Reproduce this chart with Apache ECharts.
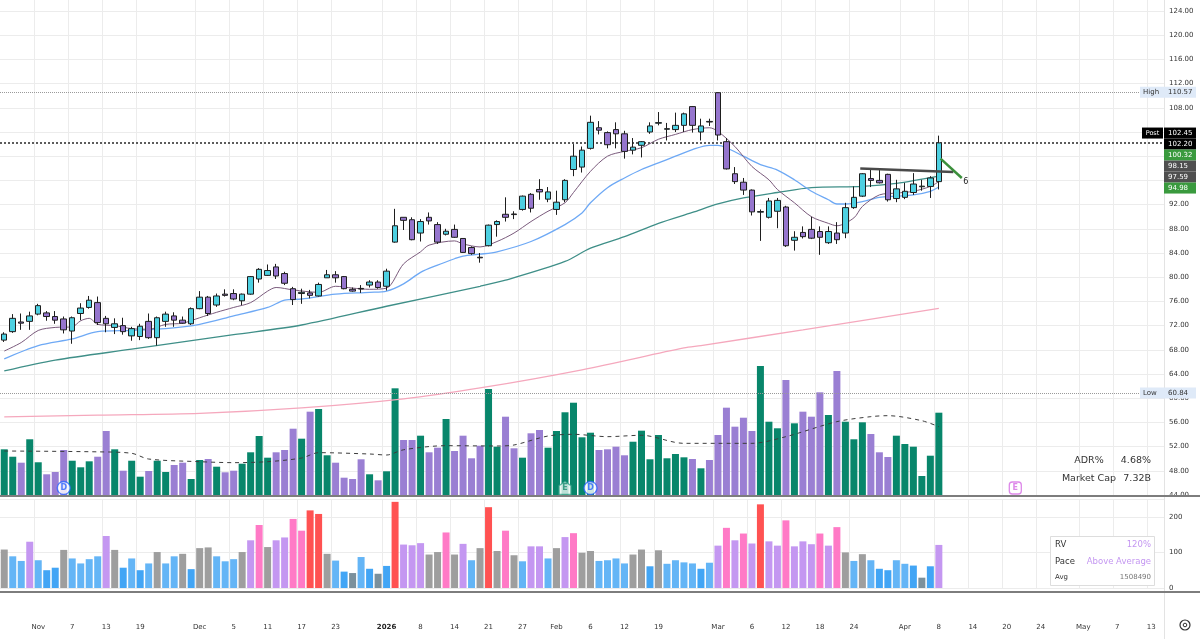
<!DOCTYPE html>
<html><head><meta charset="utf-8">
<script src="https://cdn.jsdelivr.net/npm/echarts@6/dist/echarts.min.js"></script>
<style>html,body{margin:0;padding:0;background:#fff}#c{width:1200px;height:639px}</style>
</head><body><div id="c"></div>
<script>
// ---------- DATA ----------
const dates = ['10/28','10/29','10/30','10/31',
'11/03','11/04','11/05','11/06','11/07','11/10','11/11','11/12','11/13','11/14',
'11/17','11/18','11/19','11/20','11/21','11/24','11/25','11/26','11/28',
'12/01','12/02','12/03','12/04','12/05','12/08','12/09','12/10','12/11','12/12',
'12/15','12/16','12/17','12/18','12/19','12/22','12/23','12/24','12/26','12/29','12/30','12/31',
'01/02','01/05','01/06','01/07','01/08','01/09','01/12','01/13','01/14','01/15','01/16',
'01/20','01/21','01/22','01/23','01/26','01/27','01/28','01/29','01/30',
'02/02','02/03','02/04','02/05','02/06','02/09','02/10','02/11','02/12','02/13',
'02/17','02/18','02/19','02/20','02/23','02/24','02/25','02/26','02/27',
'03/02','03/03','03/04','03/05','03/06','03/09','03/10','03/11','03/12','03/13',
'03/16','03/17','03/18','03/19','03/20','03/23','03/24','03/25','03/26','03/27','03/30','03/31',
'04/01','04/02','04/06','04/07','04/08','04/09','04/10',
'04/13','04/14','04/15','04/16','04/17','04/20','04/21','04/22','04/23','04/24',
'04/27','04/28','04/29','04/30','05/01','05/04','05/05','05/06','05/07','05/08',
'05/11','05/12','05/13','05/14'];

const tickLabels = {'11/03':'Nov','11/07':'7','11/13':'13','11/19':'19','12/01':'Dec','12/05':'5',
'12/11':'11','12/17':'17','12/23':'23','01/02':'2026','01/08':'8','01/14':'14','01/21':'21','01/27':'27',
'02/02':'Feb','02/06':'6','02/12':'12','02/19':'19','03/02':'Mar','03/06':'6','03/12':'12','03/18':'18',
'03/24':'24','04/01':'Apr','04/08':'8','04/14':'14','04/20':'20','04/24':'24','05/01':'May','05/07':'7','05/13':'13'};

const open = [69.6,71.0,72.6,72.7,73.9,74.1,73.5,73.1,71.1,74.0,
75.0,75.8,73.2,71.7,72.0,70.3,70.2,72.7,70.0,72.7,
73.6,72.9,72.3,74.8,76.7,75.4,77.2,77.3,76.1,77.2,
79.7,80.3,81.7,80.6,78.1,77.3,77.4,76.9,79.9,80.4,
80.1,78.0,78.15,78.7,79.2,78.5,85.8,89.9,89.5,87.3,
89.9,88.7,87.1,87.9,86.4,84.9,83.3,85.2,88.7,90.4,
90.45,91.2,93.7,94.5,92.9,91.2,92.8,97.8,98.2,101.3,
104.7,103.9,104.4,103.7,101.0,101.8,104.0,105.45,104.45,104.4,
105.1,108.2,104.0,105.75,110.5,102.4,97.1,95.7,94.4,90.75,
89.9,90.9,91.6,86.1,87.4,87.9,87.55,85.7,87.3,87.3,
91.5,93.4,96.3,96.0,97.0,93.0,93.2,94.0,94.95,95.0,95.8];
const close = [70.6,73.2,72.4,73.6,75.3,73.5,72.9,71.3,73.3,74.9,
76.2,72.5,72.3,72.3,71.0,71.5,71.9,70.0,73.3,73.9,
72.9,72.4,74.8,76.7,74.0,76.9,77.0,76.4,77.2,80.1,
81.3,81.1,80.2,79.0,76.3,77.5,77.0,78.8,80.4,79.9,
78.1,77.7,78.05,79.2,78.3,81.0,88.5,89.4,86.2,89.2,
89.3,85.8,87.6,86.6,84.1,83.9,83.2,88.6,89.2,89.9,
90.35,93.4,91.4,94.1,94.1,92.4,96.0,100.0,101.0,105.6,
104.3,101.9,103.7,100.8,101.5,102.4,105.0,105.55,104.55,105.1,
107.0,105.1,105.0,105.65,103.5,97.9,95.8,94.4,90.8,90.85,
92.6,92.7,85.2,86.6,86.7,86.45,86.6,87.55,86.2,91.5,
93.2,97.1,96.0,95.6,92.8,94.6,94.2,95.4,95.05,96.4,102.2];
const low = [69.3,70.8,71.3,71.3,73.7,72.8,72.3,70.7,69.0,72.9,
74.8,72.1,70.9,70.6,70.5,69.5,69.6,69.8,68.7,71.8,
71.8,72.3,72.1,74.7,73.6,75.1,76.8,76.2,75.4,77.1,
79.1,80.2,79.7,78.7,75.4,75.6,76.5,76.8,79.9,79.1,
78.0,77.6,77.4,78.3,78.1,77.8,85.7,87.8,86.1,85.9,
88.7,85.5,86.9,86.5,84.0,83.7,82.4,85.1,86.7,89.2,
89.6,91.0,90.7,92.8,92.4,90.3,92.4,96.7,97.3,101.1,
103.6,101.3,101.3,99.6,100.3,99.8,103.7,105.1,102.6,104.0,
104.0,103.9,102.6,105.0,102.6,97.8,95.4,93.6,90.2,86.0,
89.7,88.1,85.0,84.4,86.4,86.3,83.7,85.5,85.5,86.45,
91.3,93.25,94.9,95.5,92.5,92.4,92.9,93.6,94.3,93.1,94.5];
const high = [70.9,73.9,74.0,74.3,75.6,74.4,74.4,73.5,73.5,75.7,
76.9,76.8,73.6,73.2,73.3,71.8,72.3,74.0,73.5,74.3,
74.2,73.5,75.0,77.7,76.9,77.3,78.0,78.0,77.3,80.2,
81.5,82.1,82.2,80.9,78.4,78.1,77.9,79.1,81.2,81.0,
80.2,78.3,78.7,79.5,79.5,81.4,91.3,89.9,89.9,89.6,
90.7,89.1,88.0,88.7,86.4,85.1,84.0,88.7,89.4,93.2,
90.9,93.5,93.9,96.2,94.9,94.3,96.2,102.0,101.6,106.7,
105.8,104.1,105.6,104.2,103.0,102.5,105.6,107.3,105.5,107.2,
107.2,108.3,106.2,106.2,110.57,103.0,98.2,96.4,94.5,91.2,
93.1,93.1,91.8,87.6,88.4,90.0,88.4,88.4,89.1,92.3,
95.0,97.2,98.0,98.0,97.1,96.1,95.6,97.2,96.1,96.7,103.4];

// volume in thousands of shares
const volume = [1015,854,724,1233,733,472,522,1000,767,624,
754,854,1413,1015,550,767,420,543,767,522,
674,724,370,783,804,637,515,550,702,950,
1304,833,950,1000,1463,1246,1833,1891,885,724,
398,370,798,472,341,537,2341,1217,1217,1311,
950,1050,1674,978,1311,820,1093,2326,1072,1724,
1037,833,1363,1435,1050,1413,1820,2028,1276,1376,
1000,1015,1072,885,1180,1420,798,1326,820,913,
841,804,602,783,1326,1920,1507,1702,1413,2826,
1615,1472,2522,1580,1833,1724,2254,1761,2717,1615,
1233,1602,1348,950,848,1311,1130,1072,435,876,1811];
// volume average, read at [barIndex, thousands]
const volAvgPts = [[0,978],[11,960],[15,928],[17,804],[23,746],[27,725],[31,746],[35,826],[37,942],
[43,913],[45,891],[47,1005],[52,1094],[58,1087],[60,1109],[64,1304],[67,1341],[71,1290],[75,1320],
[80,1145],[84,1145],[88,1145],[92,1290],[98,1616],[102,1725],[104,1746],[108,1637],[110,1507]];

// relative volume %
const rv = [108,89,76,130,78,50,57,107,83,69,
81,89,146,107,57,83,50,69,101,69,
89,96,53,112,114,89,75,81,101,134,
177,115,134,142,194,161,218,208,96,77,
46,42,87,54,40,62,242,122,120,126,
94,101,156,94,124,78,112,227,104,161,
92,75,117,117,83,112,143,154,99,104,
76,78,83,69,94,108,61,106,68,78,
72,69,54,71,119,169,134,153,125,235,
131,119,190,117,131,123,153,119,171,100,
76,95,78,54,50,78,68,63,29,61,121];

// moving averages read at [barIndex, price]
const ema10Pts = [[0,67.8],[2,69.2],[4,71.2],[6,71.7],[8,71.8],[9,72.8],[10,73.2],[11,72.2],[13,72.0],[15,71.5],
[17,71.4],[19,72.2],[21,72.4],[23,73.3],[25,74.2],[27,75.0],[29,75.8],[31,77.7],[32,78.3],[34,77.9],[37,77.5],
[39,78.5],[41,78.2],[43,78.0],[45,78.2],[47,82.2],[49,84.2],[50,85.3],[53,86.0],[54,85.5],[56,85.0],[58,85.9],
[60,87.3],[62,89.2],[64,90.9],[66,92.3],[67,94.0],[69,97.5],[71,100.0],[73,100.8],[75,101.4],[77,102.8],[79,103.6],
[81,104.4],[83,104.7],[84,104.1],[86,101.6],[88,98.3],[90,96.1],[91,94.5],[93,92.3],[95,90.0],[97,88.9],[98,88.5],
[100,89.8],[101,91.7],[103,93.6],[105,93.9],[107,94.2],[109,95.0],[110,95.8]];
const ema21Pts = [[0,66.5],[4,68.7],[8,69.8],[11,71.0],[15,71.2],[19,71.5],[23,72.2],[27,73.6],[31,75.0],[33,76.2],
[35,76.4],[39,77.2],[43,77.5],[45,77.7],[47,78.9],[49,80.8],[51,82.0],[53,83.05],[54,83.5],[56,83.8],[58,84.2],
[62,85.9],[66,88.7],[68,90.6],[69,92.3],[71,94.8],[73,96.4],[75,97.8],[77,98.9],[79,100.0],[81,101.1],[83,101.8],
[84,101.8],[85,101.4],[87,100.0],[89,98.6],[91,97.7],[93,96.1],[95,94.2],[97,92.8],[98,92.1],[99,92.1],[101,92.5],
[103,93.2],[105,93.4],[107,93.6],[109,94.2],[110,94.9]];
const sma50Pts = [[0,64.5],[6,66.3],[15,68.1],[27,70.5],[35,72.1],[45,75.2],[56,78.5],[59,79.5],[66,82.6],[69,84.8],
[73,86.7],[77,88.9],[81,90.7],[84,92.1],[87,93.1],[91,94.0],[95,94.8],[101,95.0],[105,95.5],[110,96.7]];
const sma200Pts = [[0,56.9],[11,57.2],[23,57.5],[35,58.4],[47,59.9],[56,61.7],[68,64.7],[80,68.3],[82,68.7],[94,71.3],[110,74.85]];

// annotations [barIndex, price]
const trendLine = [[100.75,97.95],[111.7,97.4]];
const arrowLine = [[110.2,99.6],[112.7,96.4]];

const highLine = 110.57, lowLine = 60.84, lastPrice = 102.20;
const sideLabels = [
  {v:102.45, t:'102.45', bg:'#000000', tag:'Post'},
  {v:102.20, t:'102.20', bg:'#000000'},
  {v:100.32, t:'100.32', bg:'#3a9a3e'},
  {v:98.15,  t:'98.15',  bg:'#4f4f4f'},
  {v:97.59,  t:'97.59',  bg:'#4f4f4f'},
  {v:94.98,  t:'94.98',  bg:'#3a9a3e'}
];
const events = [{d:'11/06',t:'D',k:'div'},{d:'02/03',t:'E',k:'earn'},{d:'02/06',t:'D',k:'div'},{d:'04/21',t:'E',k:'future'}];
const stats = {adr:'4.68%', mcap:'7.32B', rv:'120%', pace:'Above Average', avg:'1508490'};

// ---------- CHART ----------
const chart = echarts.init(document.getElementById('c'));
const N = dates.length;
const FONT = 'DejaVu Sans';
const ohlc = open.map((o,i)=>[o, close[i], low[i], high[i]]);
const isUp = i => close[i] >= open[i];
const pts = arr => arr.map(([i,v]) => [dates[i], v]);
const isTick = (idx, val) => tickLabels[val] !== undefined;
function rvColor(v){
  if (v < 45) return '#7b909c';
  if (v < 65) return '#42a5f5';
  if (v < 90) return '#64b5f6';
  if (v < 116) return '#9e9e9e';
  if (v < 150) return '#c497f1';
  if (v < 200) return '#ff7ac6';
  return '#ff5252';
}
const evStyle = {
  div:{symbol:'circle', size:13, fill:'#ffffff', stroke:'#2962ff', text:'#2962ff'},
  earn:{symbol:'path://M5,0 L10,3.2 L10,10 L0,10 L0,3.2 Z', size:[12,13], fill:'#eaf6f2', stroke:'#3aa58c', text:'#1e8c72'},
  future:{symbol:'roundRect', size:12, fill:'#ffffff', stroke:'#d56be3', text:'#d56be3'}
};

const option = {
  animation:false,
  backgroundColor:'#ffffff',
  textStyle:{fontFamily:FONT},
  grid:[
    {left:-1, right:36, top:11, bottom:144},
    {left:-1, right:36, top:312, bottom:143},
    {left:-1, right:36, top:0, bottom:143},
    {left:-1, right:36, top:499, bottom:51}
  ],
  xAxis:[
    {type:'category', data:dates, gridIndex:0, show:false},
    {type:'category', data:dates, gridIndex:1, show:false},
    {type:'category', data:dates, gridIndex:2, axisLine:{show:false}, axisTick:{show:false}, axisLabel:{show:false},
      splitLine:{show:true, interval:isTick, lineStyle:{color:'#ececec', width:1}}},
    {type:'category', data:dates, gridIndex:3, axisLine:{show:false}, axisTick:{show:false},
      splitLine:{show:true, interval:isTick, lineStyle:{color:'#ececec', width:1}},
      axisLabel:{interval:isTick, margin:36, fontSize:7, color:'#333', fontFamily:FONT,
        formatter:v => tickLabels[v] === '2026' ? '{b|2026}' : (tickLabels[v] || ''),
        rich:{b:{fontWeight:'bold', fontSize:7, color:'#222', fontFamily:FONT}}}},
    {type:'value', gridIndex:0, min:-0.5, max:N-0.5, show:false}
  ],
  yAxis:[
    {type:'value', gridIndex:0, min:44, max:124, interval:4, position:'right',
      axisLine:{show:false}, axisTick:{show:false},
      splitLine:{lineStyle:{color:'#ececec', width:1}},
      axisLabel:{fontSize:7, color:'#333', margin:5, fontFamily:FONT, formatter:v => v.toFixed(2)}},
    {type:'value', gridIndex:1, min:0, max:4000, show:false},
    {type:'value', gridIndex:2, show:false},
    {type:'value', gridIndex:3, min:0, max:250, interval:100, position:'right',
      axisLine:{show:false}, axisTick:{show:false}, splitLine:{lineStyle:{color:'#ececec'}},
      axisLabel:{fontSize:7, color:'#333', margin:5, showMaxLabel:false, fontFamily:FONT}}
  ],
  series:[
    {type:'bar', name:'vol', xAxisIndex:1, yAxisIndex:1, barWidth:7, z:1,
      data:volume.map((v,i)=>({value:v, itemStyle:{color:isUp(i)?'#08866b':'#9a7fd3'}}))},
    {type:'line', name:'volavg', xAxisIndex:1, yAxisIndex:1, data:pts(volAvgPts), showSymbol:false, smooth:0.3,
      connectNulls:true, z:2, lineStyle:{color:'#3c3c3c', width:1, type:[4,4]}},
    {type:'line', name:'sma200', xAxisIndex:0, yAxisIndex:0, data:pts(sma200Pts), showSymbol:false, smooth:0.3, z:2,
      lineStyle:{color:'#f5a8bd', width:1.3}},
    {type:'line', name:'sma50', xAxisIndex:0, yAxisIndex:0, data:pts(sma50Pts), showSymbol:false, smooth:0.3, z:2,
      lineStyle:{color:'#3f8f88', width:1.3}},
    {type:'line', name:'ema21', xAxisIndex:0, yAxisIndex:0, data:pts(ema21Pts), showSymbol:false, smooth:0.3, z:2,
      lineStyle:{color:'#6ea9f5', width:1.3}},
    {type:'line', name:'ema10', xAxisIndex:0, yAxisIndex:0, data:pts(ema10Pts), showSymbol:false, smooth:0.3, z:2,
      lineStyle:{color:'#7a5a7c', width:1}},
    {type:'candlestick', name:'price', xAxisIndex:0, yAxisIndex:0, data:ohlc, barWidth:6, z:5,
      itemStyle:{color:'#4dd0e1', color0:'#9575cd', borderColor:'#1e1e1e', borderColor0:'#1e1e1e', borderWidth:1},
      markLine:{symbol:'none', silent:true, label:{show:false}, animation:false,
        data:[
          {yAxis:highLine, lineStyle:{type:'dotted', color:'#9a9a9a', width:1}},
          {yAxis:lowLine, lineStyle:{type:'dotted', color:'#9a9a9a', width:1}},
          {yAxis:lastPrice, lineStyle:{type:'dotted', color:'#5c5c5c', width:2}}
        ]}},
    {type:'line', name:'trend', xAxisIndex:4, yAxisIndex:0, data:trendLine, showSymbol:false, z:6,
      lineStyle:{color:'#4a4a4a', width:2.5}},
    {type:'line', name:'arrow', xAxisIndex:4, yAxisIndex:0, data:arrowLine, showSymbol:false, z:6,
      lineStyle:{color:'#3b8f3b', width:2.5}},
    {type:'scatter', name:'events', xAxisIndex:1, yAxisIndex:1, z:7,
      data:events.map(e => {const s = evStyle[e.k]; return {
        value:[e.d, 0], symbol:s.symbol, symbolSize:s.size, symbolOffset:[0,-8],
        itemStyle:{color:s.fill, borderColor:s.stroke, borderWidth:1.3},
        label:{show:true, position:'inside', formatter:e.t, color:s.text, fontSize:8, fontWeight:'bold', fontFamily:FONT}
      };})},
    {type:'bar', name:'rv', xAxisIndex:3, yAxisIndex:3, barWidth:7,
      data:rv.map(v => ({value:v, itemStyle:{color:rvColor(v)}}))}
  ]
};
chart.setOption(option);

// ---------- overlay labels ----------
const g = [];
const AX = 1164; // axis x (grid right edge)
// separators
g.push({type:'line', z:50, shape:{x1:AX+0.5, y1:0, x2:AX+0.5, y2:639}, style:{stroke:'#e3e3e3', lineWidth:1}});
g.push({type:'line', z:60, shape:{x1:0, y1:496, x2:1200, y2:496}, style:{stroke:'#7d7d7d', lineWidth:2}});
g.push({type:'line', z:60, shape:{x1:0, y1:592, x2:1200, y2:592}, style:{stroke:'#7d7d7d', lineWidth:2}});

const yOf = v => chart.convertToPixel({yAxisIndex:0}, v);
function txt(x, y, text, o){
  return Object.assign({type:'text', z:101, x:x, y:y, style:Object.assign({text:text, fill:'#333',
    font:'7px "'+FONT+'"', textAlign:'left', textVerticalAlign:'middle'}, o||{})});
}
// High / Low tags
[[highLine,'High'],[lowLine,'Low']].forEach(([v,name]) => {
  const y = yOf(v);
  g.push({type:'rect', z:100, shape:{x:1140, y:y-5.5, width:56, height:11}, style:{fill:'#dfeaf8'}});
  g.push(txt(1143, y, name, {fill:'#333'}));
  g.push(txt(1168, y, v.toFixed(2), {fill:'#333'}));
});
// stacked price labels (cluster relaxation)
const H = 11;
let clusters = sideLabels.map(l => ({items:[l], y:yOf(l.v)}));
let merged = true;
while (merged) {
  merged = false;
  for (let k = 0; k < clusters.length-1; k++) {
    const a = clusters[k], b = clusters[k+1];
    if (a.y + a.items.length*H/2 > b.y - b.items.length*H/2) {
      const items = a.items.concat(b.items);
      const y = items.reduce((s,it)=>s+yOf(it.v),0)/items.length;
      clusters.splice(k,2,{items:items, y:y}); merged = true; break;
    }
  }
}
clusters.forEach(c => {
  const top = c.y - c.items.length*H/2;
  c.items.forEach((l,j) => {
    const cy = top + H*j + H/2;
    g.push({type:'rect', z:100, shape:{x:AX, y:cy-H/2, width:32, height:H}, style:{fill:l.bg}});
    g.push(txt(AX+4, cy, l.t, {fill:'#ffffff'}));
    if (l.tag) {
      g.push({type:'rect', z:100, shape:{x:AX-22, y:cy-H/2, width:21, height:H}, style:{fill:'#000'}});
      g.push(txt(AX-11.5, cy, l.tag, {fill:'#fff', textAlign:'center', font:'6.5px "'+FONT+'"'}));
    }
  });
});
// ADR / market cap
g.push(txt(1089, 461, 'ADR%', {textAlign:'center', font:'9.5px "'+FONT+'"'}));
g.push(txt(1151, 461, stats.adr, {textAlign:'right', font:'9.5px "'+FONT+'"'}));
g.push(txt(1089, 479, 'Market Cap', {textAlign:'center', font:'9.5px "'+FONT+'"'}));
g.push(txt(1151, 479, stats.mcap, {textAlign:'right', font:'9.5px "'+FONT+'"'}));
// RV box
g.push({type:'rect', z:100, shape:{x:1050.5, y:536.5, width:104, height:49}, style:{fill:'#fff', stroke:'#dddddd', lineWidth:1}});
g.push(txt(1055, 545, 'RV', {font:'8.5px "'+FONT+'"'}));
g.push(txt(1151, 545, stats.rv, {textAlign:'right', fill:'#c497f1', font:'8.5px "'+FONT+'"'}));
g.push(txt(1055, 562, 'Pace', {font:'8.5px "'+FONT+'"'}));
g.push(txt(1151, 562, stats.pace, {textAlign:'right', fill:'#c497f1', font:'8.5px "'+FONT+'"'}));
g.push(txt(1055, 577, 'Avg', {font:'7px "'+FONT+'"'}));
g.push(txt(1151, 577, stats.avg, {textAlign:'right', fill:'#777', font:'7px "'+FONT+'"'}));
// small drawing marker near arrow end
const ae = chart.convertToPixel({xAxisIndex:4, yAxisIndex:0}, arrowLine[1]);
g.push(txt(ae[0]+4, ae[1]+4, '6', {fill:'#222', font:'8px "'+FONT+'"', textAlign:'center'}));
// settings icon
g.push({type:'circle', z:100, shape:{cx:1185, cy:625, r:5}, style:{fill:'none', stroke:'#333', lineWidth:1.2}});
g.push({type:'circle', z:100, shape:{cx:1185, cy:625, r:1.8}, style:{fill:'none', stroke:'#333', lineWidth:1}});
chart.setOption({graphic:g});
</script></body></html>
